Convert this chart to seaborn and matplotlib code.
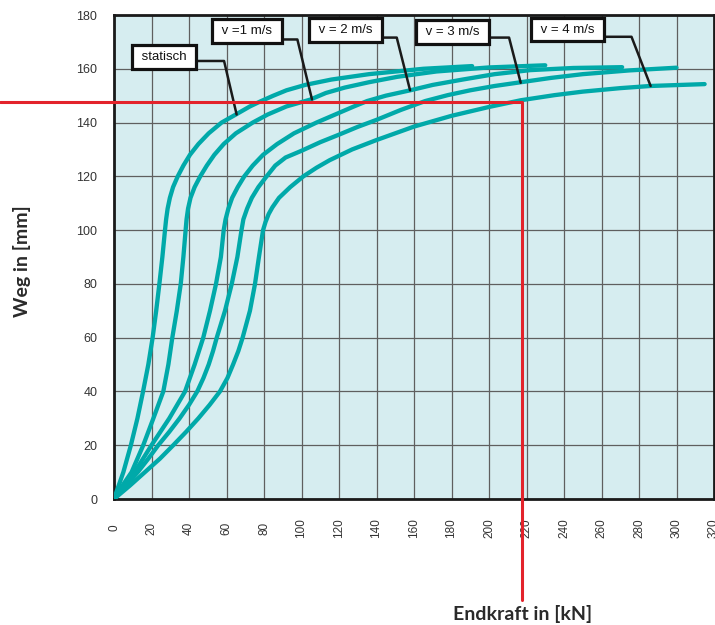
import numpy as np
import pandas as pd
import matplotlib
matplotlib.use("Agg")
import matplotlib.pyplot as plt
import seaborn as sns


# Kennlinien: Endkraft in kN (x) und Weg in mm (y)
kurven = ["statisch", "v =1 m/s", "v = 2 m/s", "v = 3 m/s", "v = 4 m/s"]

kraft_statisch = [0, 2.5, 5, 9, 12.5, 15.5, 18.3, 20.6, 22.5, 24.2, 25.8, 27.2, 27.8, 28.6,
                  29.8, 31.5, 34, 37, 40.5, 45, 50.5, 57.4, 65, 72.5, 78.5, 85, 92, 102,
                  116, 136, 165, 191]
weg_statisch = [0, 5, 10, 20, 30, 40, 50, 60, 70, 80, 90, 100, 104, 108,
                112, 116, 120, 124, 128, 132, 136, 140, 143, 146, 148, 150, 152, 154,
                156, 158, 160, 161]

kraft_v1 = [0, 4.5, 9.4, 15.6, 21, 26.3, 29, 31.1, 33.5, 35.6, 37, 38.2, 38.7, 39.5,
            40.8, 43, 46, 49.5, 53.5, 58.5, 65, 74, 82, 92, 104.5, 113, 123, 136,
            151, 172, 200, 230]
weg_v1 = [0, 5, 10, 20, 30, 40, 50, 60, 70, 80, 90, 100, 104, 108,
          112, 116, 120, 124, 128, 132, 136, 140, 143, 146, 148.5, 151, 153, 155,
          157, 159, 160.5, 161.3]

kraft_v2 = [0, 5.5, 11, 20, 29.5, 37.9, 43, 47.6, 51.2, 54.4, 57, 58.5, 59.5, 61,
            63, 66, 69.5, 74, 79.5, 87, 96, 108, 118, 128, 135, 145, 158, 170,
            186, 203, 222, 245, 271]
weg_v2 = [0, 5, 10, 20, 30, 40, 50, 60, 70, 80, 90, 100, 104, 108,
          112, 116, 120, 124, 128, 132, 136, 140, 143, 146, 148, 150, 152, 154,
          156, 158, 159.5, 160.3, 160.6]

kraft_v3 = [0, 6.5, 12.7, 18.3, 23.6, 29.5, 35, 40, 44.4, 47.7, 50.5, 52.8, 54.8, 59.2,
            62.8, 65.8, 68, 69, 71, 73.5, 77, 81.4, 86, 91.5, 100, 110, 120, 130,
            140, 153, 166, 178, 190, 203, 217, 233, 250, 275, 300]
weg_v3 = [0, 5, 10, 15, 20, 25, 30, 35, 40, 45, 50, 55, 60, 70,
          80, 90, 100, 104, 108, 112, 116, 120, 124, 127, 129.5, 132.7, 135.5, 138.4,
          141, 144.7, 148, 150.2, 152, 153.6, 155, 156.6, 158, 159.4, 160.4]

kraft_v4 = [0, 8.5, 16.5, 24.5, 31.6, 38.5, 45, 51, 56.5, 60.5, 63.5, 66.3, 68.6, 72.5,
            75.2, 77.3, 79.5, 80.8, 82.5, 84.5, 88, 94, 101, 108, 115, 127, 140, 160,
            180, 200, 217, 235, 250, 270, 286, 315]
weg_v4 = [0, 5, 10, 15, 20, 25, 30, 35, 40, 45, 50, 55, 60, 70,
          80, 90, 100, 103, 106, 108.5, 112, 116, 120, 123.2, 126, 130, 133.5, 138.5,
          142.5, 145.8, 148.3, 150.2, 151.5, 152.8, 153.6, 154.3]

kraft = [kraft_statisch, kraft_v1, kraft_v2, kraft_v3, kraft_v4]
weg = [weg_statisch, weg_v1, weg_v2, weg_v3, weg_v4]

# Beschriftungskaesten mit Hinweislinie (Kasten, Knick, Ziel auf der Kurve)
label_x = [26.8, 70.8, 123.5, 180.4, 241.8]
label_y = [164.4, 173.9, 174.4, 173.8, 174.6]
knick_x = [58.7, 97.8, 150.8, 210.7, 276]
knick_y = [162.9, 170.9, 171.6, 171.6, 171.9]
ziel_x = [65.4, 105.6, 157.9, 216.9, 286.2]
ziel_y = [143, 148.6, 152, 154.8, 153.6]

# Ablesebeispiel (rot)
beispiel_weg = 147.7
beispiel_kraft = 217.4

teal = "#00a9a9"
rot = "#e3232b"

frames = []
for name, xs, ys in zip(kurven, kraft, weg):
    frames.append(pd.DataFrame({"kraft": xs, "weg": ys, "kurve": name}))
df = pd.concat(frames, ignore_index=True)

sns.set_style("white")
plt.rcParams["font.family"] = ["Liberation Sans", "DejaVu Sans"]

fig = plt.figure(figsize=(7.15, 6.25), dpi=100)
ax = fig.add_axes([114 / 715, 1 - 499 / 625, 600 / 715, 484 / 625])
ax.set_facecolor("#d6edf0")

sns.lineplot(data=df, x="kraft", y="weg", hue="kurve", estimator=None, sort=False,
             palette=[teal] * 5, linewidth=3.1, legend=False, ax=ax, zorder=3,
             solid_capstyle="round", solid_joinstyle="round")

ax.set_xlim(0, 320)
ax.set_ylim(0, 180)
ax.set_xticks(np.arange(0, 321, 20))
ax.set_yticks(np.arange(0, 181, 20))
ax.grid(True, color="#5f5f5f", linewidth=0.9)
ax.set_axisbelow(True)
ax.set_xlabel("")
ax.set_ylabel("")
for s in ax.spines.values():
    s.set_visible(True)
    s.set_color("#1a1a1a")
    s.set_linewidth(2)

ax.tick_params(axis="both", which="both", direction="out", length=3,
               color="#555555", labelcolor="#333333")
ax.tick_params(axis="y", labelsize=9, pad=9)
ax.tick_params(axis="x", labelsize=8.5, pad=18, labelrotation=90)
for t in ax.get_xticklabels():
    t.set_va("center")

# Beschriftungen
for name, lx, ly, kx, ky, zx, zy in zip(kurven, label_x, label_y, knick_x, knick_y,
                                         ziel_x, ziel_y):
    ax.plot([lx, kx, zx], [ky, ky, zy], color="#1a1a1a", lw=1.8, zorder=4,
            clip_on=False)
    ax.text(lx, ly, " " + name + " ", fontsize=9.5, ha="center", va="center",
            color="#111111", zorder=6,
            bbox=dict(boxstyle="square,pad=0.45", fc="white", ec="#111111", lw=2.3))

# rote Ablesehilfe bis zum Bildrand
inv = ax.transData.inverted()
x_links = inv.transform(fig.transFigure.transform((0, 0)))[0]
y_unten = inv.transform(fig.transFigure.transform((0, 1 - 600 / 625)))[1]
ax.plot([x_links, beispiel_kraft, beispiel_kraft],
        [beispiel_weg, beispiel_weg, y_unten],
        color=rot, lw=2.2, zorder=5, clip_on=False)

fig.text(22 / 715, 1 - 261 / 625, "Weg in [mm]", rotation=90, ha="center",
         va="center", fontsize=14, fontweight="bold", color="#2a2a2a",
         family=["Lato", "DejaVu Sans"])
fig.text(523 / 715, 1 - 614 / 625, "Endkraft in [kN]", ha="center", va="center",
         fontsize=14, fontweight="bold", color="#2a2a2a",
         family=["Lato", "DejaVu Sans"])

fig.savefig("out.png", dpi=100)
